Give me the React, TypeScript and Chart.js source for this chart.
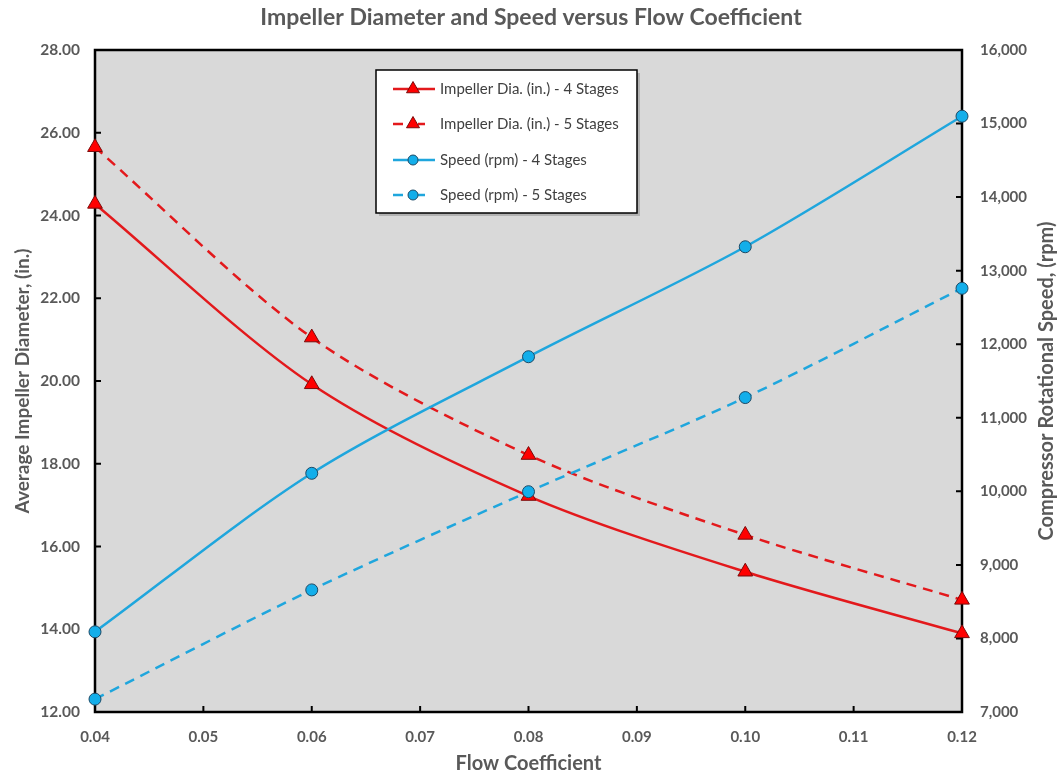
import { useEffect, useRef } from 'react';
import { Chart, registerables } from 'chart.js';

Chart.register(...registerables);

const flowCoefficients = [0.04, 0.06, 0.08, 0.1, 0.12];
const diameter4Stages = [24.28, 19.92, 17.22, 15.39, 13.9];
const diameter5Stages = [25.65, 21.05, 18.21, 16.28, 14.71];
const speed4Stages = [8090, 10245, 11830, 13325, 15100];
const speed5Stages = [7175, 8660, 9995, 11275, 12760];

const seriesLabels = [
  'Impeller Dia. (in.) - 4 Stages',
  'Impeller Dia. (in.) - 5 Stages',
  'Speed (rpm) - 4 Stages',
  'Speed (rpm) - 5 Stages',
];

const chartTitle = 'Impeller Diameter and Speed versus Flow Coefficient';
const xTitle = 'Flow Coefficient';
const leftTitle = 'Average Impeller Diameter, (in.)';
const rightTitle = 'Compressor Rotational Speed, (rpm)';

const RED_LINE = '#e3191c';
const RED_FILL = '#ff0000';
const RED_EDGE = '#7a0a0a';
const BLUE_LINE = '#1fa6dd';
const BLUE_FILL = '#13aeea';
const BLUE_EDGE = '#1d4a66';
const GRAY_TEXT = '#595959';
const FONT = 'Lato, "Open Sans", sans-serif';

const toPoints = (ys: number[]) => flowCoefficients.map((x, i) => ({ x, y: ys[i] }));

function drawMarker(ctx: CanvasRenderingContext2D, style: string, x: number, y: number, r: number, fill: string, edge: string) {
  ctx.save();
  ctx.beginPath();
  if (style === 'triangle') {
    let rad = 0;
    ctx.moveTo(x + Math.sin(rad) * r, y - Math.cos(rad) * r);
    rad += (2 * Math.PI) / 3;
    ctx.lineTo(x + Math.sin(rad) * r, y - Math.cos(rad) * r);
    rad += (2 * Math.PI) / 3;
    ctx.lineTo(x + Math.sin(rad) * r, y - Math.cos(rad) * r);
    ctx.closePath();
  } else {
    ctx.arc(x, y, r, 0, Math.PI * 2);
  }
  ctx.fillStyle = fill;
  ctx.fill();
  ctx.lineWidth = 1;
  ctx.strokeStyle = edge;
  ctx.stroke();
  ctx.restore();
}

const framePlugin = {
  id: 'frameAndLegend',
  beforeDraw(chart: any) {
    const { ctx, chartArea: a } = chart;
    ctx.save();
    ctx.fillStyle = '#d9d9d9';
    ctx.fillRect(a.left, a.top, a.right - a.left, a.bottom - a.top);
    ctx.restore();
  },
  beforeDatasetsDraw(chart: any) {
    const { ctx, chartArea: a, scales } = chart;
    ctx.save();
    ctx.strokeStyle = '#000';
    ctx.lineWidth = 2.5;
    ctx.strokeRect(a.left, a.top, a.right - a.left, a.bottom - a.top);
    ctx.lineWidth = 2;
    const tl = 6;
    ctx.beginPath();
    scales.y.ticks.forEach((t: any) => {
      const p = scales.y.getPixelForValue(t.value);
      ctx.moveTo(a.left, p);
      ctx.lineTo(a.left + tl, p);
    });
    scales.y1.ticks.forEach((t: any) => {
      const p = scales.y1.getPixelForValue(t.value);
      ctx.moveTo(a.right, p);
      ctx.lineTo(a.right - tl, p);
    });
    scales.x.ticks.forEach((t: any) => {
      const p = scales.x.getPixelForValue(t.value);
      ctx.moveTo(p, a.bottom);
      ctx.lineTo(p, a.bottom - tl);
    });
    ctx.stroke();
    ctx.restore();
  },
  afterDraw(chart: any) {
    const { ctx, chartArea: a } = chart;
    // right axis title, reading bottom-to-top
    ctx.save();
    ctx.translate(1047, (a.top + a.bottom) / 2);
    ctx.rotate(-Math.PI / 2);
    ctx.textAlign = 'center';
    ctx.textBaseline = 'middle';
    ctx.fillStyle = GRAY_TEXT;
    ctx.font = `bold 20px ${FONT}`;
    ctx.fillText(rightTitle, 0, 0);
    ctx.restore();

    // legend box
    const bx = 376, by = 70, bw = 261, bh = 143;
    ctx.save();
    ctx.fillStyle = 'rgba(0,0,0,0.18)';
    ctx.fillRect(bx + 3, by + 3, bw, bh);
    ctx.fillStyle = '#ffffff';
    ctx.fillRect(bx, by, bw, bh);
    ctx.strokeStyle = '#000';
    ctx.lineWidth = 1.5;
    ctx.strokeRect(bx, by, bw, bh);
    const rows = [89, 124, 160, 195];
    chart.data.datasets.forEach((ds: any, i: number) => {
      const y = rows[i];
      ctx.save();
      ctx.strokeStyle = ds.borderColor;
      ctx.lineWidth = ds.borderWidth;
      ctx.beginPath();
      if (ds.borderDash && ds.borderDash.length) {
        ctx.moveTo(393, y);
        ctx.lineTo(403, y);
        ctx.moveTo(418, y);
        ctx.lineTo(425, y);
      } else {
        ctx.moveTo(393, y);
        ctx.lineTo(435, y);
      }
      ctx.stroke();
      ctx.restore();
      drawMarker(ctx, ds.pointStyle, 413, y, ds.pointStyle === 'triangle' ? 7.5 : 5, ds.pointBackgroundColor, ds.pointBorderColor);
      ctx.fillStyle = '#404040';
      ctx.font = `15px ${FONT}`;
      ctx.textAlign = 'left';
      ctx.textBaseline = 'middle';
      ctx.fillText(ds.label, 440, y);
    });
    ctx.restore();
  },
};

export default function App() {
  const ref = useRef<HTMLCanvasElement>(null);

  useEffect(() => {
    if (!ref.current) return;
    Chart.defaults.font.family = FONT;
    const common = {
      borderWidth: 2.5,
      tension: 0.3,
      clip: false as any,
      pointBorderWidth: 1,
    };
    const chart = new Chart(ref.current, {
      type: 'line',
      data: {
        datasets: [
          {
            ...common,
            label: seriesLabels[0],
            data: toPoints(diameter4Stages),
            yAxisID: 'y',
            borderColor: RED_LINE,
            pointStyle: 'triangle',
            pointRadius: 8.5,
            pointBackgroundColor: RED_FILL,
            pointBorderColor: RED_EDGE,
            order: 4,
          },
          {
            ...common,
            label: seriesLabels[1],
            data: toPoints(diameter5Stages),
            yAxisID: 'y',
            borderColor: RED_LINE,
            borderDash: [10, 7],
            pointStyle: 'triangle',
            pointRadius: 8.5,
            pointBackgroundColor: RED_FILL,
            pointBorderColor: RED_EDGE,
            order: 3,
          },
          {
            ...common,
            label: seriesLabels[2],
            data: toPoints(speed4Stages),
            yAxisID: 'y1',
            borderColor: BLUE_LINE,
            pointStyle: 'circle',
            pointRadius: 6,
            pointBackgroundColor: BLUE_FILL,
            pointBorderColor: BLUE_EDGE,
            order: 2,
          },
          {
            ...common,
            label: seriesLabels[3],
            data: toPoints(speed5Stages),
            yAxisID: 'y1',
            borderColor: BLUE_LINE,
            borderDash: [10, 7],
            pointStyle: 'circle',
            pointRadius: 6,
            pointBackgroundColor: BLUE_FILL,
            pointBorderColor: BLUE_EDGE,
            order: 1,
          },
        ] as any,
      },
      options: {
        responsive: false,
        animation: false,
        devicePixelRatio: 1,
        layout: { padding: 0 },
        plugins: {
          legend: { display: false },
          tooltip: { enabled: false },
          title: {
            display: true,
            text: chartTitle,
            color: GRAY_TEXT,
            font: { family: FONT, size: 23, weight: 'bold' },
            padding: { top: 4, bottom: 18.4 },
          },
        },
        scales: {
          x: {
            type: 'linear',
            min: 0.04,
            max: 0.12,
            grid: { display: false, drawTicks: false },
            border: { display: false },
            ticks: {
              stepSize: 0.01,
              padding: 16,
              color: GRAY_TEXT,
              font: { family: FONT, size: 15, weight: 'bold' },
              callback: (v: any) => Number(v).toFixed(2),
            },
            title: {
              display: true,
              text: xTitle,
              color: GRAY_TEXT,
              font: { family: FONT, size: 20, weight: 'bold' },
              padding: { top: 0, bottom: 0 },
            },
            afterFit: (s: any) => {
              s.height = 64;
            },
          },
          y: {
            type: 'linear',
            position: 'left',
            min: 12,
            max: 28,
            grid: { display: false, drawTicks: false },
            border: { display: false },
            ticks: {
              stepSize: 2,
              padding: 15,
              color: GRAY_TEXT,
              font: { family: FONT, size: 15.5, weight: 'bold' },
              callback: (v: any) => Number(v).toFixed(2),
            },
            title: {
              display: true,
              text: leftTitle,
              color: GRAY_TEXT,
              font: { family: FONT, size: 19, weight: 'bold' },
              padding: { top: 11, bottom: 0 },
            },
            afterFit: (s: any) => {
              s.width = 95;
            },
          },
          y1: {
            type: 'linear',
            position: 'right',
            min: 7000,
            max: 16000,
            grid: { display: false, drawTicks: false },
            border: { display: false },
            ticks: {
              stepSize: 1000,
              padding: 18,
              color: GRAY_TEXT,
              font: { family: FONT, size: 15, weight: 'bold' },
              callback: (v: any) => Number(v).toLocaleString('en-US'),
            },
            afterFit: (s: any) => {
              s.width = 100;
            },
          },
        },
      } as any,
      plugins: [framePlugin],
    });
    return () => chart.destroy();
  }, []);

  return (
    <div style={{ position: 'absolute', left: 0, top: 0, width: 1062, height: 776, background: '#ffffff' }}>
      <canvas ref={ref} width={1062} height={776} style={{ display: 'block', width: 1062, height: 776 }} />
    </div>
  );
}
